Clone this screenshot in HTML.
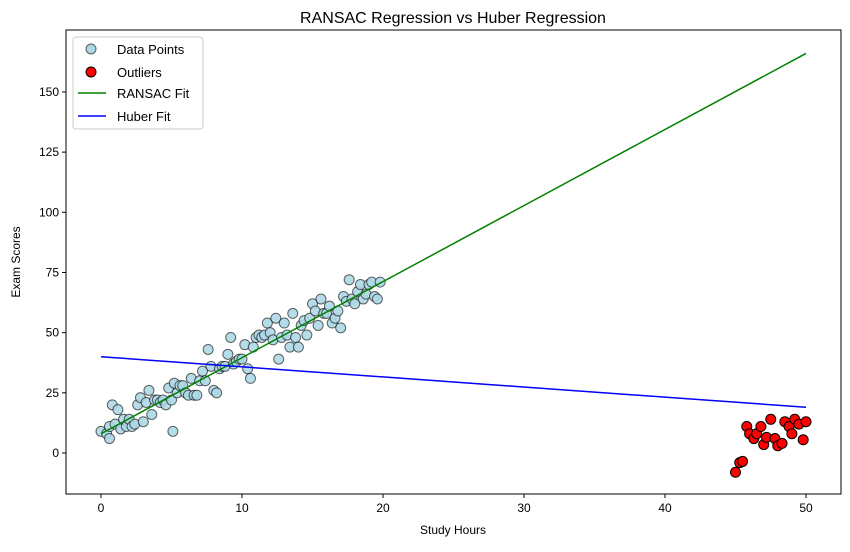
<!DOCTYPE html>
<html><head><meta charset="utf-8"><style>body{margin:0;background:#fff}svg{font-family:"Liberation Sans","DejaVu Sans",sans-serif}</style></head>
<body>
<svg id="c" width="850" height="547"></svg>
<script>
const inlierX=[0,0.4,0.6,0.6,0.8,1,1.2,1.4,1.6,1.8,2,2.2,2.4,2.6,2.8,3,3.2,3.4,3.6,3.8,4,4.2,4.4,4.6,4.8,5,5.1,5.2,5.4,5.6,5.8,6,6.2,6.4,6.6,6.8,7,7.2,7.4,7.6,7.8,8,8.2,8.4,8.6,8.8,9,9.2,9.4,9.6,9.8,10,10.2,10.4,10.6,10.8,11,11.2,11.4,11.6,11.8,12,12.2,12.4,12.6,12.8,13,13.2,13.4,13.6,13.8,14,14.2,14.4,14.6,14.8,15,15.2,15.4,15.6,15.8,16,16.2,16.4,16.6,16.8,17,17.2,17.4,17.6,17.8,18,18.2,18.4,18.6,18.8,19,19.2,19.4,19.6,19.8];
const inlierY=[9,8,11,6,20,12,18,10,14,11,14,11,12,20,23,13,21,26,16,22,22,21,22,20,27,22,9,29,25,28,28,25,24,31,24,24,30,34,30,43,36,26,25,35,36,36,41,48,37,38,39,39,45,35,31,44,48,49,48,49,54,50,47,56,39,48,54,49,44,58,48,44,53,55,49,56,62,59,53,64,58,58,61,54,56,59,52,65,63,72,64,62,67,70,64,66,70,71,65,64,71];
const outX=[45,45.3,45.5,45.8,46,46.3,46.5,46.8,47,47.2,47.5,47.8,48,48.3,48.5,48.8,49,49.2,49.5,49.8,50];
const outY=[-8,-4,-3.5,11,8,6,8,11,3.5,6.5,14,6,3,4,13,11,8,14,12,5.5,13];
const ransacLine=[[0,8],[50,166]];
const huberLine=[[0,40],[50,19]];
const xTicks=[0,10,20,30,40,50];
const yTicks=[0,25,50,75,100,125,150];
const L=66,R=841,T=30,B=494;
const sx=v=>101+v*14.1, sy=v=>453-v*2.407;
const svg=document.getElementById('c');const NS='http://www.w3.org/2000/svg';
function mk(t,a,p){const e=document.createElementNS(NS,t);for(const k in a)e.setAttribute(k,a[k]);(p||svg).appendChild(e);return e;}
let g;
xTicks.forEach(v=>{g=mk('line',{x1:sx(v),x2:sx(v),y1:B,y2:B+4,stroke:'#000'});

const t=mk('text',{x:sx(v),y:B+18,'text-anchor':'middle','font-size':12});t.textContent=v;
});
yTicks.forEach(v=>{g=mk('line',{x1:L-4,x2:L,y1:sy(v),y2:sy(v),stroke:'#000'});

const t=mk('text',{x:L-7,y:sy(v)+4,'text-anchor':'end','font-size':12});t.textContent=v;
});
inlierX.forEach((x,i)=>{const c=mk('circle',{cx:sx(x),cy:sy(inlierY[i]),r:5,fill:'#add8e6','fill-opacity':0.9,stroke:'#000','stroke-opacity':0.6,'stroke-width':1});
});
outX.forEach((x,i)=>{const c=mk('circle',{cx:sx(x),cy:sy(outY[i]),r:5,fill:'#ff0000',stroke:'#000','stroke-width':1});
});
let l=mk('line',{x1:sx(ransacLine[0][0]),y1:sy(ransacLine[0][1]),x2:sx(ransacLine[1][0]),y2:sy(ransacLine[1][1]),stroke:'#008000','stroke-width':1.5});

l=mk('line',{x1:sx(huberLine[0][0]),y1:sy(huberLine[0][1]),x2:sx(huberLine[1][0]),y2:sy(huberLine[1][1]),stroke:'#0000ff','stroke-width':1.5});

</script>
<svg width="850" height="547" style="position:absolute;left:0;top:0">
<rect x="66" y="30" width="775" height="464" fill="none" stroke="#000" stroke-width="1"/>
<text x="453" y="23" text-anchor="middle" font-size="16">RANSAC Regression vs Huber Regression</text>
<text x="453" y="534" text-anchor="middle" font-size="12">Study Hours</text>
<text x="20" y="262" text-anchor="middle" font-size="12" transform="rotate(-90 20 262)">Exam Scores</text>
<g>
<rect x="73" y="37" width="130" height="92" rx="3" fill="#fff" fill-opacity="0.8" stroke="#ccc"/>
<circle cx="91" cy="49" r="5" fill="#add8e6" stroke="#000" stroke-opacity="0.6"/>
<text x="117" y="54" font-size="13">Data Points</text>
<circle cx="91" cy="72" r="5" fill="#f00" stroke="#000"/>
<text x="117" y="77" font-size="13">Outliers</text>
<line x1="78" x2="106" y1="93" y2="93" stroke="#008000" stroke-width="1.5"/>
<text x="117" y="98" font-size="13">RANSAC Fit</text>
<line x1="78" x2="106" y1="116" y2="116" stroke="#00f" stroke-width="1.5"/>
<text x="117" y="121" font-size="13">Huber Fit</text>
</g>
</svg>
</body></html>
